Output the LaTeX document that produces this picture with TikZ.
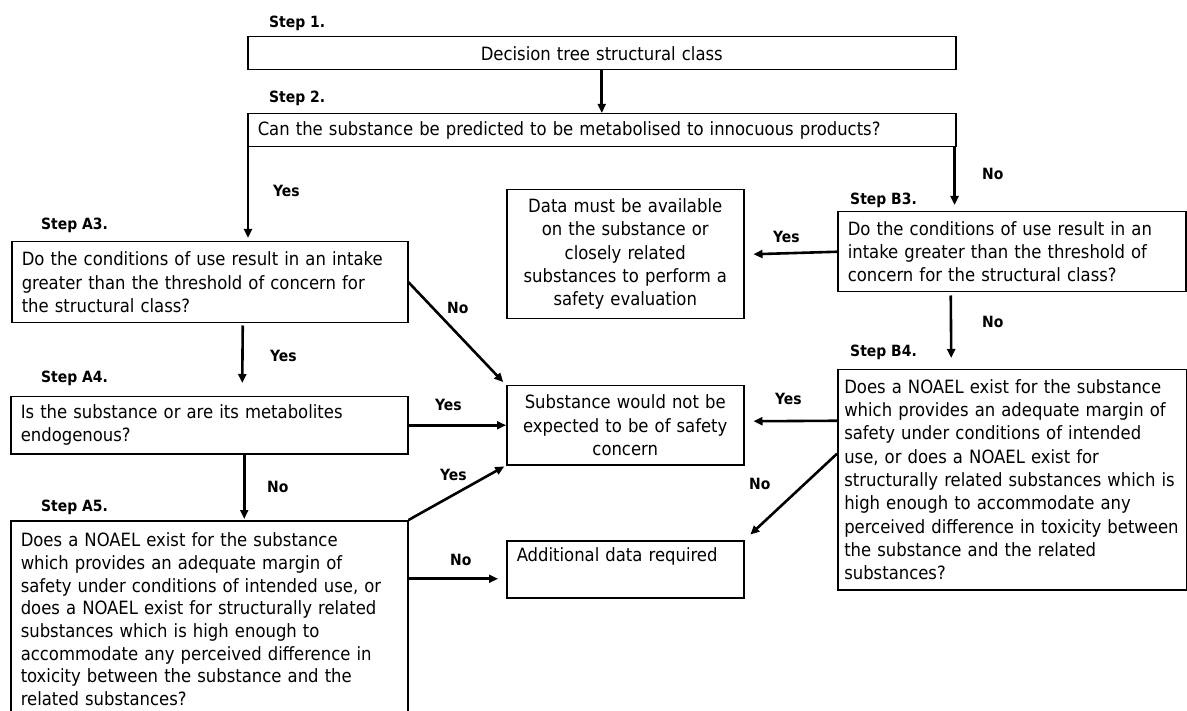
\documentclass[tikz,border=0pt]{standalone}
\usepackage{fontspec}
\setmainfont{DejaVu Sans Condensed}
\usetikzlibrary{arrows.meta,positioning}

\begin{document}
\begin{tikzpicture}[x=1pt,y=-1pt]
		\tikzstyle{every node}=[font=\fontsize{18.3}{23.3}\selectfont]
		\tikzstyle{qbox}=[draw, line width=1.5pt, anchor=north west, inner xsep=10pt, inner ysep=0pt, align=left]
		\tikzstyle{steplabel}=[anchor=west, inner sep=0pt, font=\fontsize{15.5}{18}\selectfont\bfseries]
		\tikzstyle{flow}=[line width=2.6pt, -{Triangle[length=9pt,width=8pt]}]
		\clip (0,0) rectangle (1187,711);
		% step labels
		\node [steplabel] (l1) at (269,23) {Step 1.};
		\node [steplabel] (l2) at (269,98) {Step 2.};
		\node [steplabel] (la3) at (41,225) {Step A3.};
		\node [steplabel] (la4) at (41,378) {Step A4.};
		\node [steplabel] (la5) at (41,507) {Step A5.};
		\node [steplabel] (lb3) at (850,200) {Step B3.};
		\node [steplabel] (lb4) at (850,352) {Step B4.};
		% boxes
		\node [qbox, align=center, text width=688, minimum height=33] (s1) at (247,36) {Decision tree structural class};
		\node [qbox, text width=688, minimum height=33] (s2) at (247,113) {Can the substance be predicted to be metabolised to innocuous products?};
		\node [qbox, text width=376, minimum height=81] (a3) at (11,241) {Do the conditions of use result in an intake\\greater than the threshold of concern for\\the structural class?};
		\node [qbox, text width=328, minimum height=80] (b3) at (837,211) {Do the conditions of use result in an\\intake greater than the threshold of\\concern for the structural class?};
		\node [qbox, align=center, text width=217, minimum height=129] (data) at (506,189) {Data must be available\\on the substance or\\closely related\\substances to perform a\\safety evaluation};
		\node [qbox, text width=377, minimum height=57] (a4) at (10,396) {Is the substance or are its metabolites\\endogenous?};
		\node [qbox, align=center, text width=217, minimum height=79] (subst) at (506,385) {Substance would not be\\expected to be of safety\\concern};
		\node [qbox, inner xsep=6.5pt, text width=336, minimum height=220] (b4) at (837,369) {Does a NOAEL exist for the substance\\which provides an adequate margin of\\safety under conditions of intended\\use, or does a NOAEL exist for\\structurally related substances which is\\high enough to accommodate any\\perceived difference in toxicity between\\the substance and the related\\substances?};
		\node [qbox, font=\fontsize{18.3}{22.7}\selectfont, text width=377, minimum height=197] (a5) at (10,520) {Does a NOAEL exist for the substance\\which provides an adequate margin of\\safety under conditions of intended use, or\\does a NOAEL exist for structurally related\\substances which is high enough to\\accommodate any perceived difference in\\toxicity between the substance and the\\related substances?};
		\node [qbox, text width=217, minimum height=57] (add) at (506,540) {Additional data required\\\strut};
		% connectors
		\draw [flow] (s1.south) -- (s2.north);
		\draw [flow] ([xshift=1pt]s2.south west) -- ([xshift=1pt,yshift=3pt]s2.south west |- a3.north);
		\draw [flow] ([xshift=-2pt]s2.south east) -- ([xshift=-2pt,yshift=6pt]s2.south east |- b3.north);
		\draw [flow] (b3.west) -- ([xshift=9pt]data.east);
		\draw [flow] ([xshift=-61pt,yshift=-3pt]b3.south) -- ([xshift=-61pt,yshift=11pt]b4.north);
		\draw [flow] ([yshift=59pt]b4.west) -- ([xshift=9pt,yshift=4pt]subst.east);
		\draw [flow, shorten >=8pt] ([yshift=26pt]b4.west) -- (add.north east);
		\draw [flow, shorten >=4pt] (a3.east) -- (subst.north west);
		\draw [flow] ([xshift=33pt,yshift=-2pt]a3.south) -- ([xshift=33pt,yshift=13pt]a4.north);
		\draw [flow] (a4.east) -- (subst.west |- a4.east);
		\draw [flow] ([xshift=35pt]a4.south) -- ([xshift=35pt,yshift=1pt]a5.north);
		\draw [flow, shorten >=2pt] (a5.north east) -- (subst.south west);
		\draw [flow] ([yshift=-9.5pt]add.west -| a5.east) -- ([xshift=-8pt,yshift=-9.5pt]add.west);
		% answers
		\node [steplabel] (y1) at (273,191) {Yes};
		\node [steplabel] (n1) at (982,174) {No};
		\node [steplabel] (y2) at (773,237) {Yes};
		\node [steplabel] (n2) at (982,322) {No};
		\node [steplabel] (n3) at (447,308) {No};
		\node [steplabel] (y3) at (270,356) {Yes};
		\node [steplabel] (y4) at (435,405) {Yes};
		\node [steplabel] (y5) at (775,399) {Yes};
		\node [steplabel] (n4) at (749,484) {No};
		\node [steplabel] (y6) at (440,475) {Yes};
		\node [steplabel] (n5) at (267,487) {No};
		\node [steplabel] (n6) at (450,560) {No};
		\end{tikzpicture}
\end{document}
